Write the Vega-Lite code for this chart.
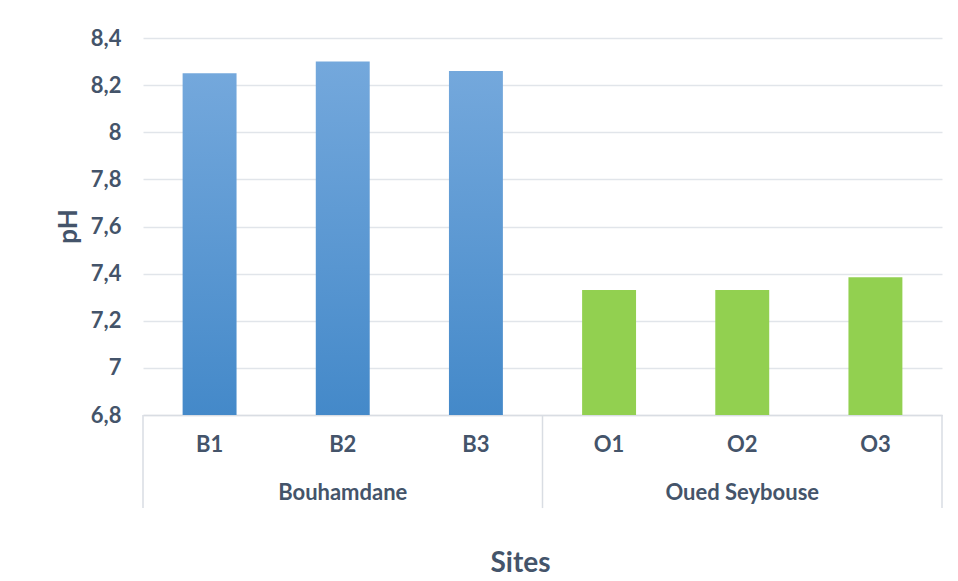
{
  "$schema": "https://vega.github.io/schema/vega-lite/v6.json",
  "width": 799,
  "height": 377,
  "autosize": "none",
  "padding": {"left": 143, "top": 38, "right": 16, "bottom": 166},
  "background": "#ffffff",
  "config": {
    "view": {"stroke": null},
    "font": "Lato",
    "axis": {"labelFont": "Lato", "titleFont": "Lato", "labelFontWeight": "bold", "titleFontWeight": "bold", "labelColor": "#44546a", "titleColor": "#44546a"}
  },
  "data": {
    "values": [
      {"site": "B1", "group": "Bouhamdane", "ph": 8.25},
      {"site": "B2", "group": "Bouhamdane", "ph": 8.30},
      {"site": "B3", "group": "Bouhamdane", "ph": 8.26},
      {"site": "O1", "group": "Oued Seybouse", "ph": 7.33},
      {"site": "O2", "group": "Oued Seybouse", "ph": 7.33},
      {"site": "O3", "group": "Oued Seybouse", "ph": 7.385}
    ]
  },
  "encoding": {
    "x": {
      "field": "site", "type": "nominal", "sort": null,
      "scale": {"paddingInner": 0, "paddingOuter": 0},
      "axis": {
        "title": "Sites", "titleFontSize": 28, "titleX": 377, "titleY": 148, "titleBaseline": "middle", "titleAlign": "center",
        "labelAngle": 0, "labelFontSize": 22, "labelPadding": 19,
        "ticks": false, "domain": true, "domainColor": "#d9dde3", "domainWidth": 1.5, "grid": false
      }
    },
    "y": {
      "field": "ph", "type": "quantitative",
      "scale": {"domain": [6.8, 8.4], "zero": false, "nice": false},
      "axis": {
        "title": "pH", "titleFontSize": 26, "titleX": -75, "titleY": 188, "titleBaseline": "middle", "titleAngle": -90, "titleAlign": "center",
        "values": [6.8, 7, 7.2, 7.4, 7.6, 7.8, 8, 8.2, 8.4],
        "format": ".1~f",
        "labelExpr": "replace(datum.label, '.', ',')",
        "labelFontSize": 22, "labelPadding": 22,
        "ticks": false, "domain": false,
        "grid": true, "gridColor": "#e1e5ea", "gridWidth": 1.5
      }
    }
  },
  "layer": [
    {
      "transform": [{"filter": "datum.group === 'Bouhamdane'"}],
      "mark": {
        "type": "bar",
        "width": {"band": 0.405},
        "color": {"gradient": "linear", "x1": 0, "y1": 0, "x2": 0, "y2": 1, "stops": [{"offset": 0, "color": "#74a8dc"}, {"offset": 1, "color": "#4489c9"}]}
      },
      "encoding": {"y2": {"datum": 6.8}}
    },
    {
      "transform": [{"filter": "datum.group === 'Oued Seybouse'"}],
      "mark": {"type": "bar", "width": {"band": 0.405}, "color": "#92d050"},
      "encoding": {"y2": {"datum": 6.8}}
    },
    {
      "transform": [{"filter": "datum.site === 'B2' || datum.site === 'O2'"}],
      "mark": {"type": "text", "font": "Lato", "fontWeight": "bold", "fontSize": 22, "color": "#44546a", "baseline": "middle", "align": "center"},
      "encoding": {
        "y": {"datum": 6.469, "type": "quantitative"},
        "text": {"field": "group"}
      }
    },
    {
      "transform": [{"filter": "datum.site === 'B1' || datum.site === 'O1'"}],
      "mark": {"type": "rule", "color": "#d9dde3", "strokeWidth": 1.5},
      "encoding": {
        "x": {"field": "site", "type": "nominal", "sort": null, "bandPosition": 0},
        "y": {"datum": 6.8, "type": "quantitative"},
        "y2": {"datum": 6.405}
      }
    },
    {
      "transform": [{"filter": "datum.site === 'O3'"}],
      "mark": {"type": "rule", "color": "#d9dde3", "strokeWidth": 1.5},
      "encoding": {
        "x": {"field": "site", "type": "nominal", "sort": null, "bandPosition": 1},
        "y": {"datum": 6.8, "type": "quantitative"},
        "y2": {"datum": 6.405}
      }
    }
  ]
}
